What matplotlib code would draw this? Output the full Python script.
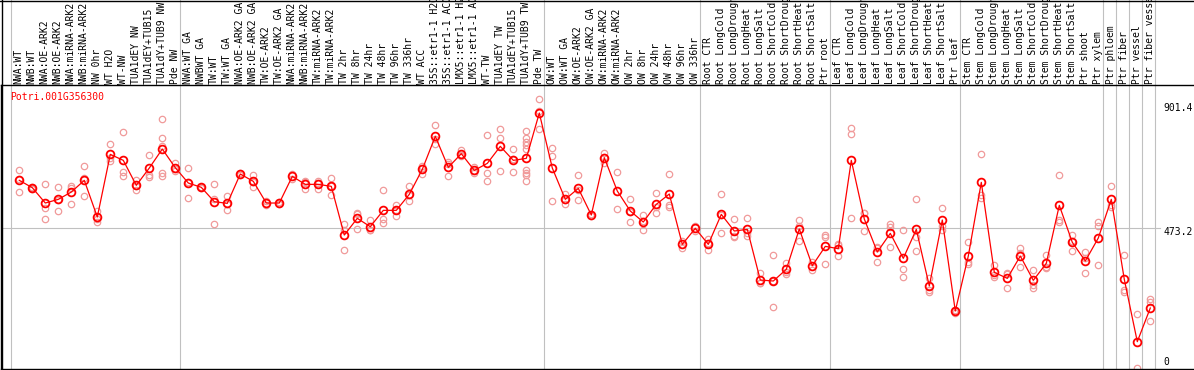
import matplotlib
matplotlib.use("Agg")
import matplotlib.pyplot as plt
from matplotlib.lines import Line2D
import matplotlib.transforms as mtrans

title = "Potri.001G356300"

labels = [
    "NWA:WT", "NWB:WT", "NWA:OE-ARK2", "NWB:OE-ARK2", "NWA:miRNA-ARK2", "NWB:miRNA-ARK2",
    "NW 0hr", "WT H2O", "WT-NW", "TUA1dEY NW", "TUA1dEY+TUB15", "TUA1dY+TUB9 NW", "Pde NW",
    "NWA:WT GA", "NWBWT GA", "TW:WT", "TW:WT GA", "NWA:OE-ARK2 GA", "NWB:OE-ARK2 GA",
    "TW:OE-ARK2", "TW:OE-ARK2 GA", "NWA:miRNA-ARK2", "NWB:miRNA-ARK2", "TW:miRNA-ARK2",
    "TW:miRNA-ARK2", "TW 2hr", "TW 8hr", "TW 24hr", "TW 48hr", "TW 96hr", "TW 336hr",
    "WT ACC", "35S::etr1-1 H2O", "35S::etr1-1 ACC", "LMX5::etr1-1 H2O", "LMX5::etr1-1 ACC",
    "WT-TW", "TUA1dEY TW", "TUA1dEY+TUB15", "TUA1dY+TUB9 TW", "Pde TW",
    "OW:WT", "OW:WT GA", "OW:OE-ARK2", "OW:OE-ARK2 GA", "OW:miRNA-ARK2", "OW:miRNA-ARK2",
    "OW 2hr", "OW 8hr", "OW 24hr", "OW 48hr", "OW 96hr", "OW 336hr",
    "Root CTR", "Root LongCold", "Root LongDrought", "Root LongHeat", "Root LongSalt",
    "Root ShortCold", "Root ShortDrought", "Root ShortHeat", "Root ShortSalt", "Ptr root",
    "Leaf CTR", "Leaf LongCold", "Leaf LongDrought", "Leaf LongHeat", "Leaf LongSalt",
    "Leaf ShortCold", "Leaf ShortDrought", "Leaf ShortHeat", "Leaf ShortSalt", "Ptr leaf",
    "Stem CTR", "Stem LongCold", "Stem LongDrought", "Stem LongHeat", "Stem LongSalt",
    "Stem ShortCold", "Stem ShortDrought", "Stem ShortHeat", "Stem ShortSalt",
    "Ptr shoot", "Ptr xylem",
    "Ptr phloem", "Ptr fiber", "Ptr vessel", "Ptr fiber vessel",
]

group_sizes = [13, 28, 12, 10, 10, 11, 1, 1, 1, 1]

means = [
    632.2, 607.9, 557.0, 569.2, 593.5, 632.2, 510.6, 718.4, 698.5, 615.6, 673.1, 736.1, 674.2,
    623.3, 609.0, 561.4, 555.9, 653.2, 628.9, 557.0, 557.0, 645.4, 618.9, 618.9, 612.3,
    450.9, 506.2, 478.6, 532.7, 532.7, 585.8, 668.6, 778.1, 675.3, 720.6, 665.3, 688.5,
    744.9, 698.5, 705.1, 855.4,
    673.1, 569.2, 605.6, 517.2, 707.3, 596.8, 530.5, 494.0, 552.6, 586.9, 420.0, 473.0,
    420.0, 519.4, 464.2, 469.7, 301.7, 298.4, 337.1, 470.8, 349.2, 413.3,
    405.6, 698.5, 504.0, 394.6, 456.4, 373.6, 469.7, 281.8, 500.7, 198.9,
    381.3, 625.5, 327.1, 307.2, 381.3, 300.6, 357.0, 549.3, 426.6, 364.7, 441.0,
    569.2, 303.9, 97.3, 208.9,
]

replicates = [
    [665.3, 593.5, 637.8], [611.2, 604.5, 608.0], [620.0, 540.4, 504.0], [609.0, 530.5, 568.0],
    [614.5, 607.9, 553.7], [678.6, 579.1, 638.9], [531.6, 502.9, 495.1], [752.6, 705.1, 697.5],
    [791.3, 660.9, 646.5], [633.3, 601.2, 612.3], [716.2, 649.9, 644.3],
    [835.5, 772.5, 746.0, 655.4, 647.6], [688.5, 664.2, 669.9],
    [672.0, 572.5, 625.4], [611.2, 605.6, 610.2], [618.9, 570.3, 487.4], [580.2, 532.7, 554.8],
    [657.6, 648.8], [649.9, 611.2, 625.6], [563.7, 550.4], [561.4, 552.6], [653.2, 637.7],
    [628.9, 625.5, 602.3], [630.0, 624.4, 602.3], [638.8, 584.7, 613.4],
    [486.3, 400.1, 466.3], [525.0, 519.4, 469.7], [500.7, 467.5, 467.5], [599.0, 504.0, 491.8],
    [550.4, 512.8, 534.9], [612.3, 562.5, 582.6], [679.7, 653.2, 672.9], [814.5, 751.5, 768.3],
    [691.9, 647.6, 686.3], [732.7, 717.3, 711.7], [676.4, 657.6, 662.0], [781.4, 655.4, 628.9],
    [802.4, 771.4, 662.0], [735.0, 658.7, 701.7],
    [794.6, 771.4, 758.2, 748.2, 737.2, 665.3, 655.4, 648.8, 628.9], [901.4, 802.4, 862.4],
    [739.4, 714.0, 563.7], [588.0, 552.6, 567.0], [648.8, 567.0, 601.0], [520.5, 514.0],
    [723.9, 688.5, 709.5], [658.7, 536.0], [570.3, 492.9, 528.3], [517.2, 468.6, 496.2],
    [590.2, 525.0, 542.6], [653.2, 549.3, 544.9], [408.9, 431.0], [480.8, 465.3],
    [436.6, 400.1, 423.3], [585.8, 456.4, 516.0], [502.9, 443.2, 446.5], [506.2, 456.4, 446.5],
    [323.8, 290.7, 290.7], [384.6, 213.3, 298.4], [359.2, 320.5, 329.3], [500.7, 431.0, 480.8],
    [334.9, 362.5], [450.9, 443.2, 353.7],
    [421.1, 380.2, 416.7], [804.6, 785.8, 506.2], [525.0, 522.8, 464.2], [412.2, 360.3, 408.9],
    [487.4, 476.3, 410.0], [466.4, 337.1, 310.6], [569.2, 443.2, 397.9], [307.2, 268.6, 261.9],
    [539.3, 480.8, 467.5], [202.3, 193.4, 198.9],
    [426.6, 354.8, 362.5], [718.4, 574.7, 583.5], [351.5, 310.6, 318.3], [323.8, 274.1, 321.6],
    [406.7, 343.7, 392.3], [334.9, 285.1, 276.3], [384.6, 340.4, 345.9], [648.8, 500.7, 495.1],
    [450.9, 397.9, 432.1], [393.5, 326.0, 374.7], [495.1, 480.8, 350.3],
    [613.4, 544.9, 550.4], [383.5, 268.6, 263.0], [187.9, 8.8], [238.7, 228.8, 164.7],
]

scale_labels = [901.4, 473.2, 0]

# ---------------- layout ----------------
W, H = 1194, 370
fig = plt.figure(figsize=(W / 100, H / 100), dpi=100)
fig.patch.set_facecolor("white")

ax_top_px, ax_bot_px = 85, 369
ax = fig.add_axes([1 / W, (H - ax_bot_px) / H, (W - 1) / W, (ax_bot_px - ax_top_px) / H])
ax.set_facecolor("none")

px_per_col = 13.0
first_center_px = 19.3
ax.set_xlim((1 - first_center_px) / px_per_col, (W - first_center_px) / px_per_col)
zero_px = 371.0
px_per_unit = (zero_px - 228.3) / 473.2
ax.set_ylim((zero_px - ax_bot_px) / px_per_unit, (zero_px - ax_top_px) / px_per_unit)

for s in ["left", "top", "bottom"]:
    ax.spines[s].set_color("black")
    ax.spines[s].set_linewidth(1.0)
ax.spines["right"].set_visible(False)
ax.set_xticks([])
ax.set_yticks([])

mono = "DejaVu Sans Mono"
fs = 7

# group separator lines (extend through label area)
ext = (ax_bot_px - 0) / (ax_bot_px - ax_top_px)
bound_off = (11 - first_center_px) / px_per_col
b = 0
bounds = [0]
for g in group_sizes:
    b += g
    bounds.append(b)
for bd in bounds:
    ax.axvline(bd + bound_off, ymin=0, ymax=ext, color="#c0c0c0", lw=0.8, clip_on=False, zorder=0)

# horizontal mid line
ax.axhline(scale_labels[1], xmin=0, xmax=(1160 - 1) / (W - 1), color="#c0c0c0", lw=0.8, zorder=0)

# figure border lines (left & top)
fig.add_artist(Line2D([1.5 / W, 1.5 / W], [0, 1], transform=fig.transFigure, color="black", lw=1.0))
fig.add_artist(Line2D([0, 1], [1 - 0.5 / H, 1 - 0.5 / H], transform=fig.transFigure, color="black", lw=1.0))

x = list(range(len(means)))

# replicates
rx, ry = [], []
for i, reps in enumerate(replicates):
    for v in reps:
        rx.append(i)
        ry.append(v)
ax.plot(rx, ry, linestyle="none", marker="o", markersize=4.6, markerfacecolor="none",
        markeredgecolor="#f09a9a", markeredgewidth=0.9, zorder=2)

# mean line
ax.plot(x, means, color="red", lw=0.9, marker="o", markersize=5.6, markerfacecolor="none",
        markeredgecolor="red", markeredgewidth=1.3, zorder=3)

# category labels (rotated)
lab_trans = mtrans.blended_transform_factory(ax.transData, ax.transAxes)
lab_trans = lab_trans + mtrans.ScaledTranslation(0, 1.5 / 100, fig.dpi_scale_trans)
for i, lab in enumerate(labels):
    ax.text(i - 0.05, 1.0, lab, transform=lab_trans, rotation=90, ha="center", va="bottom",
            fontsize=fs, family=mono, color="black", clip_on=False)

# title
ax.text((9.7 - 1) / (W - 1), (ax_bot_px - 96.5) / (ax_bot_px - ax_top_px), title,
        transform=ax.transAxes, ha="left", va="center", fontsize=fs, family=mono, color="red")

# scale labels on the right
offsets = [-9, -4, 9]
sl_x = (1163 - 1) / (W - 1)
for v, off in zip(scale_labels, offsets):
    ax.annotate(f"{v:g}", xy=(sl_x, v), xycoords=("axes fraction", "data"),
                xytext=(0, off), textcoords="offset pixels", ha="left", va="center",
                fontsize=fs, family=mono, color="black", annotation_clip=False)

fig.savefig("out.png", dpi=100, facecolor="white")
